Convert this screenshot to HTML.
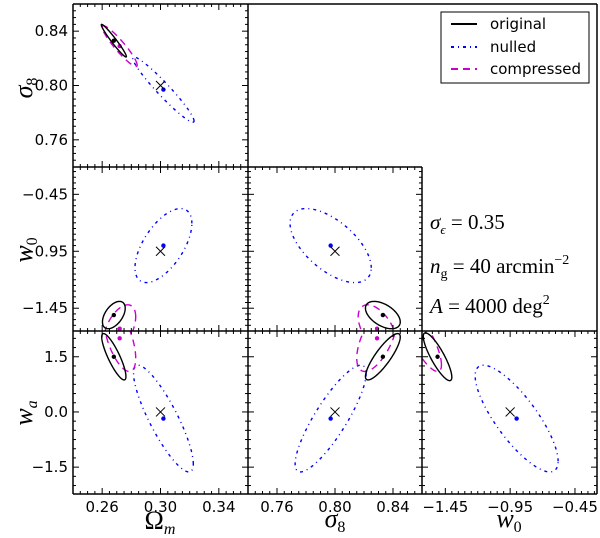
<!DOCTYPE html>
<html><head><meta charset="utf-8"><style>
html,body{margin:0;padding:0;background:#fff;}
svg{display:block;}
.tk{font-family:"DejaVu Sans","Liberation Sans",sans-serif;font-size:15px;fill:#000;}
.ax{font-family:"Liberation Serif","DejaVu Serif",serif;font-style:italic;font-size:26px;fill:#000;}
.ann{font-family:"Liberation Serif","DejaVu Serif",serif;font-size:21px;fill:#000;}
.lg{font-family:"DejaVu Sans","Liberation Sans",sans-serif;font-size:15px;fill:#000;}
</style></head><body>
<svg id="chart" width="600" height="538" viewBox="0 0 600 538" xmlns="http://www.w3.org/2000/svg">
<g id="marks"></g>
<g id="frame" stroke="#000" stroke-width="1.5" fill="none">
<line x1="73" y1="4" x2="597" y2="4"/><line x1="597" y1="4" x2="597" y2="494"/>
<line x1="73" y1="494" x2="597" y2="494"/><line x1="73" y1="4" x2="73" y2="494"/>
<line x1="248" y1="4" x2="248" y2="494"/><line x1="73" y1="167" x2="422" y2="167"/>
<line x1="422" y1="167" x2="422" y2="494"/><line x1="73" y1="331" x2="597" y2="331"/>
</g>
<g>
<rect x="441" y="12" width="148" height="71" fill="#fff" stroke="#000" stroke-width="1"/>
<line x1="451" y1="24" x2="477" y2="24" stroke="#000" stroke-width="2"/>
<text class="lg" x="490" y="29">original</text>
<line x1="451" y1="47" x2="477" y2="47" stroke="#00f" stroke-width="2" stroke-dasharray="3,4,1,4"/>
<text class="lg" x="490" y="52">nulled</text>
<line x1="451" y1="69" x2="477" y2="69" stroke="#c0c" stroke-width="2" stroke-dasharray="7,5"/>
<text class="lg" x="490" y="74">compressed</text>
</g>
<g>
<text class="ann" x="430" y="229"><tspan font-style="italic">σ</tspan><tspan font-style="italic" font-size="13" dy="5">ϵ</tspan><tspan dy="-5"> = 0.35</tspan></text>
<text class="ann" x="430" y="273"><tspan font-style="italic">n</tspan><tspan font-size="14" dy="5">g</tspan><tspan dy="-5"> = 40 arcmin</tspan><tspan font-size="14" dy="-9">−2</tspan></text>
<text class="ann" x="430" y="313"><tspan font-style="italic">A</tspan> = 4000 deg<tspan font-size="14" dy="-9">2</tspan></text>
</g>
<text class="ax" transform="translate(32,88) rotate(-90)" text-anchor="middle">σ<tspan font-size="16" dy="5" font-style="normal">8</tspan></text>
<text class="ax" transform="translate(32,250) rotate(-90)" text-anchor="middle">w<tspan font-size="16" dy="5" font-style="normal">0</tspan></text>
<text class="ax" transform="translate(32,413) rotate(-90)" text-anchor="middle">w<tspan font-size="16" dy="5">a</tspan></text>
<text class="ax" x="160" y="529" text-anchor="middle"><tspan font-style="normal">Ω</tspan><tspan font-size="16" dy="5">m</tspan></text>
<text class="ax" x="335" y="527" text-anchor="middle">σ<tspan font-size="16" dy="5" font-style="normal">8</tspan></text>
<text class="ax" x="509" y="527" text-anchor="middle">w<tspan font-size="16" dy="5" font-style="normal">0</tspan></text>
</svg>
<script>
// parameter order: Om, s8, w0, wa
const fiducial = [0.30, 0.80, -0.95, 0.0];
const seriesNames = ['original', 'nulled', 'compressed'];
const centerOriginal = [0.268, 0.833, -1.51, 1.5];
const centerNulled = [0.302, 0.797, -0.90, -0.18];
const centerCompressed = [0.272, 0.829, -1.63, 2.0];
// per panel [sx, sy, rho]; panels: A(Om,s8) B(Om,w0) C(Om,wa) D(s8,w0) E(s8,wa) F(w0,wa)
const ellOriginal = [[0.0086,0.012,-0.97],[0.0078,0.12,0.5],[0.0083,0.63,-0.85],[0.012,0.12,-0.5],[0.012,0.63,0.85],[0.11,0.65,-0.85]];
const ellNulled = [[0.021,0.024,-0.96],[0.0195,0.325,0.6],[0.0205,1.45,-0.85],[0.028,0.325,-0.6],[0.0245,1.45,0.85],[0.32,1.45,-0.8]];
const ellCompressed = [[0.012,0.015,-0.93],[0.011,0.21,0.5],[0.011,0.9,-0.6],[0.013,0.21,-0.5],[0.014,0.9,0.6],[0.15,0.9,-0.8]];
const ticksOm = [0.26, 0.30, 0.34];
const ticksS8 = [0.76, 0.80, 0.84];
const ticksW0 = [-1.45, -0.95, -0.45];
const ticksWa = [-1.5, 0.0, 1.5];
const tickLabelsOm = ['0.26','0.30','0.34'];
const tickLabelsS8 = ['0.76','0.80','0.84'];
const tickLabelsW0 = ['−1.45','−0.95','−0.45'];
const tickLabelsWa = ['−1.5','0.0','1.5'];

const NS='http://www.w3.org/2000/svg';
const cols=[73,248,422,597], rows=[4,167,331,494];
const xDom=[[0.24,0.36],[0.74,0.86],[-1.63,-0.28]];
const yDom=[[0.74,0.86],[-1.65,-0.21],[-2.23,2.2]];
function xs(c,v){return cols[c]+(v-xDom[c][0])/(xDom[c][1]-xDom[c][0])*(cols[c+1]-cols[c]);}
function ys(r,v){return rows[r+1]-(v-yDom[r][0])/(yDom[r][1]-yDom[r][0])*(rows[r+1]-rows[r]);}
const panels=[{c:0,r:0,px:0,py:1},{c:0,r:1,px:0,py:2},{c:0,r:2,px:0,py:3},{c:1,r:1,px:1,py:2},{c:1,r:2,px:1,py:3},{c:2,r:2,px:2,py:3}];
const centers=[centerOriginal,centerNulled,centerCompressed];
const ells=[ellOriginal,ellNulled,ellCompressed];
const colors=['#000','#00f','#c0c'];
const dashes=['none','3,4,1,4','7,5'];
const marks=document.getElementById('marks');
const svg=document.getElementById('chart');
const defs=document.createElementNS(NS,'defs');svg.insertBefore(defs,svg.firstChild);
function mk(t,a,p){const e=document.createElementNS(NS,t);for(const k in a)e.setAttribute(k,a[k]);(p||marks).appendChild(e);return e;}
panels.forEach((P,i)=>{
  const cp=mk('clipPath',{id:'cp'+i},defs);
  mk('rect',{x:cols[P.c],y:rows[P.r],width:cols[P.c+1]-cols[P.c],height:rows[P.r+1]-rows[P.r]},cp);
  const g=mk('g',{'clip-path':'url(#cp'+i+')'});
  
  
  [1,2,0].forEach(s=>{
    const cen=centers[s],e=ells[s][i];
    let d='';
    for(let k=0;k<=120;k++){const t=k/120*2*Math.PI;
      const vx=cen[P.px]+e[0]*Math.cos(t);
      const vy=cen[P.py]+e[1]*(e[2]*Math.cos(t)+Math.sqrt(1-e[2]*e[2])*Math.sin(t));
      d+=(k?'L':'M')+xs(P.c,vx).toFixed(2)+','+ys(P.r,vy).toFixed(2);}
    const p=mk('path',{d:d+'Z',fill:'none',stroke:colors[s],'stroke-width':1.4,'stroke-dasharray':dashes[s]},g);
    
    
    const dt=mk('circle',{cx:xs(P.c,cen[P.px]),cy:ys(P.r,cen[P.py]),r:2.2,fill:colors[s]},g);
    
    
  });
  const fx=xs(P.c,fiducial[P.px]),fy=ys(P.r,fiducial[P.py]);
  const x=mk('path',{d:`M${fx-4.5},${fy-4.5}L${fx+4.5},${fy+4.5}M${fx-4.5},${fy+4.5}L${fx+4.5},${fy-4.5}`,stroke:'#000','stroke-width':1},g);
  
  
});
const xTicks=[ticksOm,ticksS8,ticksW0], xLab=[tickLabelsOm,tickLabelsS8,tickLabelsW0];
const yTicks=[ticksS8,ticksW0,ticksWa], yLab=[tickLabelsS8,tickLabelsW0,tickLabelsWa];
const xMinor=[0.005,0.005,0.05], yMinor=[0.005,0.05,0.25];
const tg=mk('g',{stroke:'#000','stroke-width':1});


function tick(x1,y1,x2,y2){mk('line',{x1,y1,x2,y2},tg);}
for(let c=0;c<3;c++){
  const rr=c===2?[2]:c===1?[1,2]:[0,1,2];
  for(let v=Math.ceil(xDom[c][0]/xMinor[c])*xMinor[c];v<=xDom[c][1];v+=xMinor[c]){
    const X=xs(c,v);const major=xTicks[c].some(t=>Math.abs(t-v)<1e-6);const L=major?6:3;
    rr.forEach(r=>{ tick(X,rows[r+1],X,rows[r+1]-L); tick(X,rows[r],X,rows[r]+L);});
  }
}
for(let r=0;r<3;r++){
  const cc=r===0?[0]:r===1?[0,1]:[0,1,2];
  for(let v=Math.ceil(yDom[r][0]/yMinor[r])*yMinor[r];v<=yDom[r][1];v+=yMinor[r]){
    const Y=ys(r,v);const major=yTicks[r].some(t=>Math.abs(t-v)<1e-6);const L=major?6:3;
    cc.forEach(c=>{tick(cols[c],Y,cols[c]+L,Y);tick(cols[c+1],Y,cols[c+1]-L,Y);});
  }
}
xTicks.forEach((arr,c)=>arr.forEach((v,j)=>{const t=mk('text',{x:xs(c,v),y:512,'text-anchor':'middle',class:'tk'});t.textContent=xLab[c][j];
  
  }));
yTicks.forEach((arr,r)=>arr.forEach((v,j)=>{const t=mk('text',{x:68,y:ys(r,v)+5,'text-anchor':'end',class:'tk'});t.textContent=yLab[r][j];
  
  }));
</script>
</body></html>
